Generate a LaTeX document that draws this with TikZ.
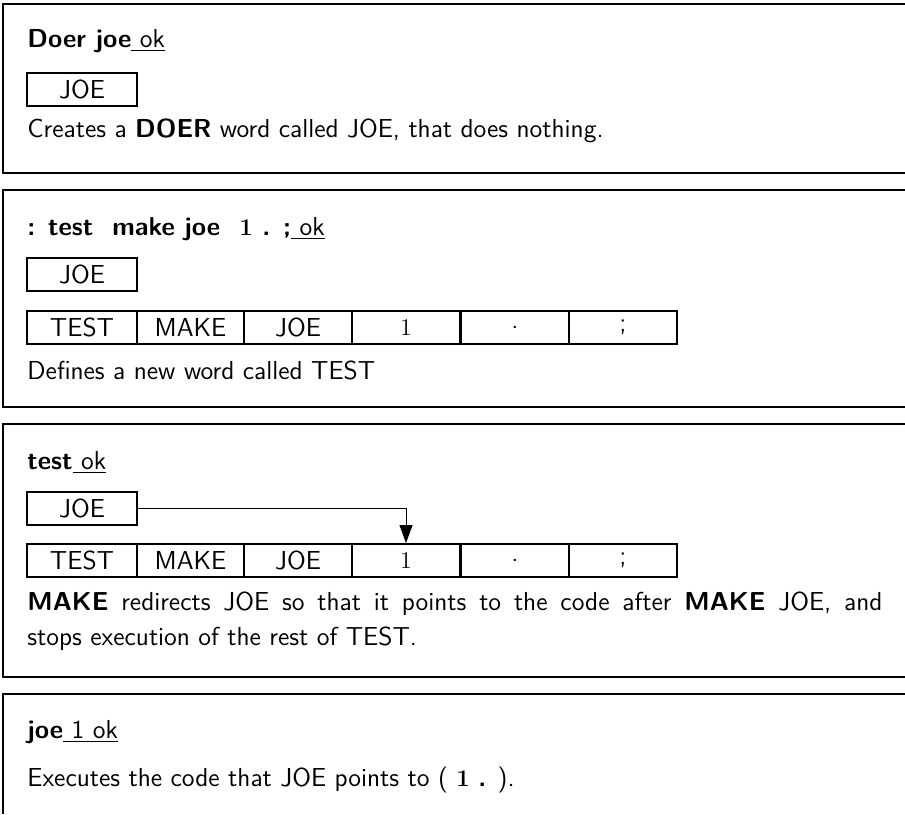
\documentclass[tikz,border=0pt]{standalone}
\usetikzlibrary{arrows.meta}
\begin{document}
\begin{tikzpicture}[x=0.5pt,y=-0.5pt,
  txt/.style={anchor=base west,inner sep=0pt,font=\sffamily\fontsize{13pt}{16pt}\selectfont},
  para/.style={anchor=base west,inner sep=0pt,text width=427.5pt,align=justify,
    font=\sffamily\fontsize{13pt}{17.5pt}\selectfont},
  panel/.style={line width=1pt},
  joebox/.style={draw,line width=1pt,minimum width=55pt,minimum height=16.5pt,inner sep=0pt,
    font=\sffamily\fontsize{13pt}{16pt}\selectfont},
  cellbox/.style={draw,line width=1pt,minimum height=16.5pt,inner sep=0pt,
    font=\sffamily\fontsize{13pt}{16pt}\selectfont},
  ptr/.style={line width=0.5pt,-{Triangle[length=9pt,width=6.5pt]}}]
\useasboundingbox (0,0) rectangle (905,814);
% panel frames
\draw[panel] (905,3.5) -- (3,3.5) -- (3,173) -- (905,173);
\draw[panel] (905,190) -- (3,190) -- (3,406.5) -- (905,406.5);
\draw[panel] (905,423.5) -- (3,423.5) -- (3,676.5) -- (905,676.5);
\draw[panel] (905,693.5) -- (3,693.5) -- (3,814);
% panel 1
\node[txt] (h1) at (27,47) {\textbf{Doer joe}\underline{\ ok}};
\node[joebox] (joe1) at (82,89.5) {JOE};
\node[txt] (t1) at (27,137) {Creates a \textbf{DOER} word called JOE, that does nothing.};
% panel 2
\node[txt] (h2) at (27,235) {\textbf{: test\ \ make joe\ \ $\mathbf{1}$ . ;}\underline{\ ok}};
\node[joebox] (joe2) at (82,274.5) {JOE};
\node[cellbox,minimum width=55pt] (b2a) at (82,327.5) {TEST};
\node[cellbox,minimum width=53.5pt] (b2b) at (190.5,327.5) {MAKE};
\node[cellbox,minimum width=54pt] (b2c) at (298,327.5) {JOE};
\node[cellbox,minimum width=54pt] (b2d) at (406,327.5) {$1$};
\node[cellbox,minimum width=54pt] (b2e) at (515,327.5) {.};
\node[cellbox,minimum width=54pt] (b2f) at (623,327.5) {;};
\node[txt] (t2) at (27,379) {Defines a new word called TEST};
% panel 3
\node[txt] (h3) at (27,469) {\textbf{test}\underline{\ ok}};
\node[joebox] (joe3) at (82,508.5) {JOE};
\node[cellbox,minimum width=55pt] (b3a) at (82,560.5) {TEST};
\node[cellbox,minimum width=53.5pt] (b3b) at (190.5,560.5) {MAKE};
\node[cellbox,minimum width=54pt] (b3c) at (298,560.5) {JOE};
\node[cellbox,minimum width=54pt] (b3d) at (406,560.5) {$1$};
\node[cellbox,minimum width=54pt] (b3e) at (515,560.5) {.};
\node[cellbox,minimum width=54pt] (b3f) at (623,560.5) {;};
\draw[ptr] (joe3.east) -| (b3d.north);
\node[para] (t3) at (27,610) {\textbf{MAKE} redirects JOE so that it points to the code after \textbf{MAKE} JOE, and\linebreak stops execution of the rest of TEST.};
% panel 4
\node[txt] (h4) at (27,738) {\textbf{joe}\underline{\ 1 ok}};
\node[txt] (t4) at (27,786) {Executes the code that JOE points to ( $\mathbf{1}$ \textbf{.} ).};
\end{tikzpicture}
\end{document}
